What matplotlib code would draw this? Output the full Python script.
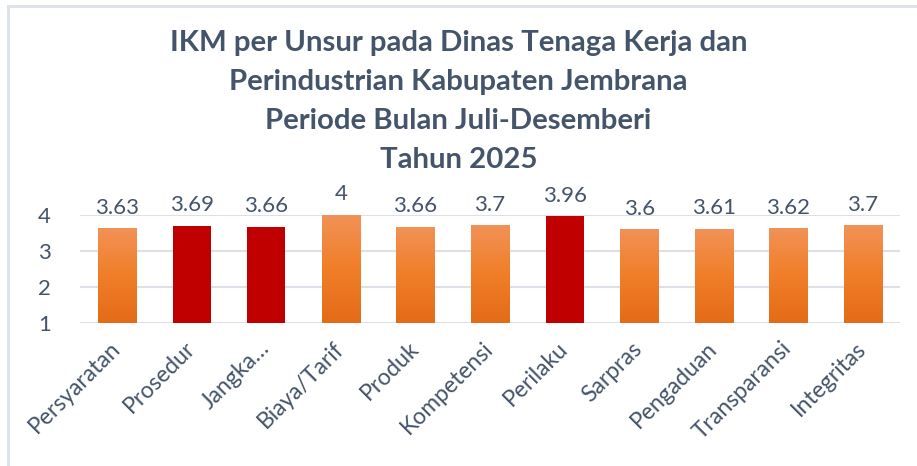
import numpy as np
import matplotlib
matplotlib.use('Agg')
import matplotlib.pyplot as plt
from matplotlib.colors import LinearSegmentedColormap
from matplotlib.lines import Line2D

categories = ['Persyaratan', 'Prosedur', 'Jangka…', 'Biaya/Tarif', 'Produk', 'Kompetensi',
              'Perilaku', 'Sarpras', 'Pengaduan', 'Transparansi', 'Integritas']
values = [3.63, 3.69, 3.66, 4, 3.66, 3.7, 3.96, 3.6, 3.61, 3.62, 3.7]
highlight = [False, True, True, False, False, False, True, False, False, False, False]
value_labels = ['3.63', '3.69', '3.66', '4', '3.66', '3.7', '3.96', '3.6', '3.61', '3.62', '3.7']
title = ('IKM per Unsur pada Dinas Tenaga Kerja dan\nPerindustrian Kabupaten Jembrana\n'
         'Periode Bulan Juli-Desemberi\nTahun 2025')

plt.rcParams['font.family'] = ['Lato', 'DejaVu Sans']
txt = '#44546A'
red = '#C00000'
grad = LinearSegmentedColormap.from_list('og', ['#E46B17', '#F07E28', '#F29257'])

fig = plt.figure(figsize=(9.17, 4.66), dpi=100, facecolor='w')
ax = fig.add_axes([80 / 917, 143 / 466, 820 / 917, 108 / 466])

x = np.arange(len(categories))
w = 0.51
for i, (v, hl) in enumerate(zip(values, highlight)):
    if hl:
        ax.bar(x[i], v - 1, bottom=1, width=w, color=red, zorder=3)
    else:
        g = np.linspace(0, 1, 256).reshape(-1, 1)
        ax.imshow(g, cmap=grad, origin='lower', aspect='auto',
                  extent=[x[i] - w / 2, x[i] + w / 2, 1, v], zorder=3)
    ax.text(x[i], v + 0.3, value_labels[i], ha='center', va='bottom',
            fontsize=16, color=txt, clip_on=False)

ax.set_xlim(-0.5, len(categories) - 0.5)
ax.set_ylim(1, 4)
ax.set_yticks([1, 2, 3, 4])
ax.grid(axis='y', color='#DDE1E7', linewidth=1.5, zorder=0)
ax.set_axisbelow(True)
for s in ax.spines.values():
    s.set_visible(False)
ax.tick_params(length=0)
ax.tick_params(axis='y', labelsize=16, labelcolor=txt, pad=21)
ax.set_xticks(x)
ax.set_xticklabels(categories, rotation=45, ha='right', va='center',
                   rotation_mode='anchor', fontsize=16.5, color=txt)
ax.tick_params(axis='x', pad=16)

fig.text(0.5, 1 - 30 / 466, title, ha='center', va='top', fontsize=21.2,
         fontweight='bold', color=txt, linespacing=1.62)

fig.add_artist(Line2D([8 / 917, 8 / 917], [0, 1 - 6 / 466], color='#DDE2EA', lw=2,
                      transform=fig.transFigure))
fig.add_artist(Line2D([8 / 917, 1], [1 - 6 / 466, 1 - 6 / 466], color='#DDE2EA', lw=2,
                      transform=fig.transFigure))

fig.savefig('out.png', dpi=100)
